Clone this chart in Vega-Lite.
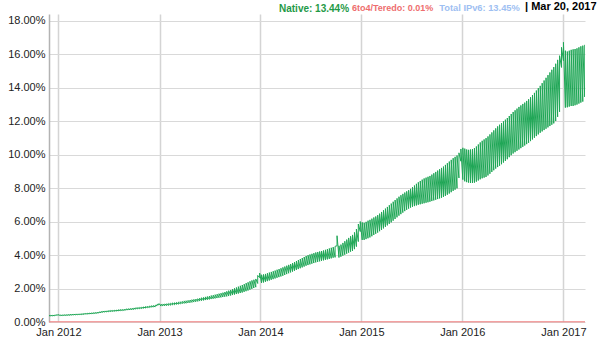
{
"$schema": "https://vega.github.io/schema/vega-lite/v6.json",
"width": 536, "height": 308,
"autosize": {"type": "none"},
"padding": {"left": 49, "top": 14, "right": 15, "bottom": 24},
"background": "white",
"config": {"view": {"stroke": null}, "font": "Liberation Sans", "axis": {"labelFont": "Liberation Sans", "labelFontSize": 11, "labelColor": "#222", "title": null, "ticks": false},
  "legend": {"orient": "none", "legendY": -10.5, "direction": "horizontal", "padding": 0, "symbolSize": 0, "symbolStrokeWidth": 0, "symbolOpacity": 0, "labelOffset": 0, "labelFont": "Liberation Sans", "labelFontWeight": "bold", "labelBaseline": "middle", "title": null}},
"encoding": {
  "x": {"field": "d", "type": "temporal",
    "scale": {"type": "utc", "domain": [{"year": 2011, "month": 11, "date": 28, "utc": true}, {"year": 2017, "month": 3, "date": 20, "utc": true}]},
    "axis": {"values": [{"year": 2012, "month": 1, "date": 1, "utc": true}, {"year": 2013, "month": 1, "date": 1, "utc": true}, {"year": 2014, "month": 1, "date": 1, "utc": true}, {"year": 2015, "month": 1, "date": 1, "utc": true}, {"year": 2016, "month": 1, "date": 1, "utc": true}, {"year": 2017, "month": 1, "date": 1, "utc": true}],
      "labelExpr": "utcFormat(datum.value, '%b %Y')", "grid": true, "gridColor": "#d4d4d4", "gridWidth": 1.5, "domain": false, "labelPadding": 4, "labelFlush": false, "labelOverlap": false}
  },
  "y": {"field": "v", "type": "quantitative",
    "scale": {"domain": [0, 18.39], "nice": false, "zero": true},
    "axis": {"values": [0, 2, 4, 6, 8, 10, 12, 14, 16, 18], "labelExpr": "format(datum.value, '.2f') + '%'", "grid": true, "gridColor": "#d9d9d9", "gridWidth": 1, "domainColor": "#b3b3b3", "domainWidth": 1.5, "labelPadding": 4, "labelOverlap": false}}
},
"layer": [
  {
    "data": {"values": [
{"d":"2011-11-28","l":0.35,"h":0.39},{"d":"2011-12-04","l":0.36,"h":0.40},{"d":"2011-12-11","l":0.36,"h":0.40},{"d":"2011-12-18","l":0.37,"h":0.41},{"d":"2011-12-25","l":0.40,"h":0.43},
{"d":"2012-01-01","l":0.41,"h":0.44},{"d":"2012-01-08","l":0.38,"h":0.42},{"d":"2012-01-15","l":0.38,"h":0.42},{"d":"2012-01-22","l":0.39,"h":0.43},{"d":"2012-01-29","l":0.39,"h":0.43},
{"d":"2012-02-05","l":0.40,"h":0.44},{"d":"2012-02-12","l":0.40,"h":0.45},{"d":"2012-02-19","l":0.41,"h":0.45},{"d":"2012-02-26","l":0.42,"h":0.46},
{"d":"2012-03-04","l":0.42,"h":0.47},{"d":"2012-03-11","l":0.43,"h":0.47},{"d":"2012-03-18","l":0.44,"h":0.48},{"d":"2012-03-25","l":0.44,"h":0.49},
{"d":"2012-04-01","l":0.45,"h":0.50},{"d":"2012-04-08","l":0.47,"h":0.51},{"d":"2012-04-15","l":0.47,"h":0.52},{"d":"2012-04-22","l":0.48,"h":0.53},{"d":"2012-04-29","l":0.49,"h":0.54},
{"d":"2012-05-06","l":0.50,"h":0.55},{"d":"2012-05-13","l":0.51,"h":0.56},{"d":"2012-05-20","l":0.52,"h":0.57},{"d":"2012-05-27","l":0.54,"h":0.60},
{"d":"2012-06-03","l":0.56,"h":0.62},{"d":"2012-06-10","l":0.58,"h":0.64},{"d":"2012-06-17","l":0.59,"h":0.65},{"d":"2012-06-24","l":0.60,"h":0.66},
{"d":"2012-07-01","l":0.61,"h":0.68},{"d":"2012-07-08","l":0.62,"h":0.69},{"d":"2012-07-15","l":0.63,"h":0.69},{"d":"2012-07-22","l":0.64,"h":0.70},{"d":"2012-07-29","l":0.65,"h":0.71},
{"d":"2012-08-05","l":0.66,"h":0.73},{"d":"2012-08-12","l":0.67,"h":0.74},{"d":"2012-08-19","l":0.68,"h":0.74},{"d":"2012-08-26","l":0.69,"h":0.75},
{"d":"2012-09-02","l":0.71,"h":0.78},{"d":"2012-09-09","l":0.72,"h":0.79},{"d":"2012-09-16","l":0.73,"h":0.80},{"d":"2012-09-23","l":0.74,"h":0.81},{"d":"2012-09-30","l":0.75,"h":0.83},
{"d":"2012-10-07","l":0.77,"h":0.85},{"d":"2012-10-14","l":0.78,"h":0.86},{"d":"2012-10-21","l":0.79,"h":0.87},{"d":"2012-10-28","l":0.80,"h":0.88},
{"d":"2012-11-04","l":0.82,"h":0.90},{"d":"2012-11-11","l":0.83,"h":0.92},{"d":"2012-11-18","l":0.85,"h":0.93},{"d":"2012-11-25","l":0.86,"h":0.95},
{"d":"2012-12-02","l":0.88,"h":0.97},{"d":"2012-12-09","l":0.89,"h":0.98},{"d":"2012-12-16","l":0.90,"h":1.00},{"d":"2012-12-23","l":0.97,"h":1.06},{"d":"2012-12-30","l":1.02,"h":1.10},
{"d":"2013-01-06","l":0.95,"h":1.06},{"d":"2013-01-13","l":0.96,"h":1.07},{"d":"2013-01-20","l":0.97,"h":1.08},{"d":"2013-01-27","l":0.98,"h":1.09},
{"d":"2013-02-03","l":0.99,"h":1.11},{"d":"2013-02-10","l":1.00,"h":1.12},{"d":"2013-02-17","l":1.02,"h":1.14},{"d":"2013-02-24","l":1.03,"h":1.15},
{"d":"2013-03-03","l":1.05,"h":1.17},{"d":"2013-03-10","l":1.06,"h":1.19},{"d":"2013-03-17","l":1.08,"h":1.21},{"d":"2013-03-24","l":1.09,"h":1.23},{"d":"2013-03-31","l":1.11,"h":1.26},
{"d":"2013-04-07","l":1.12,"h":1.27},{"d":"2013-04-14","l":1.14,"h":1.29},{"d":"2013-04-21","l":1.15,"h":1.31},{"d":"2013-04-28","l":1.17,"h":1.33},
{"d":"2013-05-05","l":1.19,"h":1.35},{"d":"2013-05-12","l":1.21,"h":1.37},{"d":"2013-05-19","l":1.23,"h":1.39},{"d":"2013-05-26","l":1.25,"h":1.42},
{"d":"2013-06-02","l":1.27,"h":1.45},{"d":"2013-06-09","l":1.29,"h":1.47},{"d":"2013-06-16","l":1.31,"h":1.50},{"d":"2013-06-23","l":1.33,"h":1.52},{"d":"2013-06-30","l":1.35,"h":1.55},
{"d":"2013-07-07","l":1.37,"h":1.58},{"d":"2013-07-14","l":1.39,"h":1.60},{"d":"2013-07-21","l":1.41,"h":1.63},{"d":"2013-07-28","l":1.43,"h":1.66},
{"d":"2013-08-04","l":1.45,"h":1.69},{"d":"2013-08-11","l":1.47,"h":1.72},{"d":"2013-08-18","l":1.49,"h":1.75},{"d":"2013-08-25","l":1.51,"h":1.79},
{"d":"2013-09-01","l":1.53,"h":1.83},{"d":"2013-09-08","l":1.55,"h":1.87},{"d":"2013-09-15","l":1.58,"h":1.91},{"d":"2013-09-22","l":1.61,"h":1.96},{"d":"2013-09-29","l":1.64,"h":2.01},
{"d":"2013-10-06","l":1.67,"h":2.06},{"d":"2013-10-13","l":1.70,"h":2.11},{"d":"2013-10-20","l":1.73,"h":2.16},{"d":"2013-10-27","l":1.76,"h":2.21},
{"d":"2013-11-03","l":1.80,"h":2.26},{"d":"2013-11-10","l":1.84,"h":2.32},{"d":"2013-11-17","l":1.88,"h":2.37},{"d":"2013-11-24","l":1.93,"h":2.43},
{"d":"2013-12-01","l":1.98,"h":2.48},{"d":"2013-12-08","l":2.03,"h":2.52},{"d":"2013-12-15","l":2.08,"h":2.57},{"d":"2013-12-22","l":2.30,"h":2.78},{"d":"2013-12-29","l":2.65,"h":2.92},
{"d":"2014-01-05","l":2.33,"h":2.82},{"d":"2014-01-12","l":2.36,"h":2.84},{"d":"2014-01-19","l":2.40,"h":2.87},{"d":"2014-01-26","l":2.44,"h":2.91},
{"d":"2014-02-02","l":2.48,"h":2.95},{"d":"2014-02-09","l":2.52,"h":2.99},{"d":"2014-02-16","l":2.56,"h":3.03},{"d":"2014-02-23","l":2.60,"h":3.07},
{"d":"2014-03-02","l":2.64,"h":3.12},{"d":"2014-03-09","l":2.68,"h":3.16},{"d":"2014-03-16","l":2.72,"h":3.21},{"d":"2014-03-23","l":2.76,"h":3.26},{"d":"2014-03-30","l":2.81,"h":3.31},
{"d":"2014-04-06","l":2.86,"h":3.36},{"d":"2014-04-13","l":2.91,"h":3.41},{"d":"2014-04-20","l":2.96,"h":3.46},{"d":"2014-04-27","l":3.01,"h":3.52},
{"d":"2014-05-04","l":3.06,"h":3.58},{"d":"2014-05-11","l":3.11,"h":3.64},{"d":"2014-05-18","l":3.16,"h":3.70},{"d":"2014-05-25","l":3.21,"h":3.76},
{"d":"2014-06-01","l":3.26,"h":3.82},{"d":"2014-06-08","l":3.31,"h":3.88},{"d":"2014-06-15","l":3.36,"h":3.94},{"d":"2014-06-22","l":3.40,"h":3.99},{"d":"2014-06-29","l":3.44,"h":4.03},
{"d":"2014-07-06","l":3.48,"h":4.07},{"d":"2014-07-13","l":3.52,"h":4.11},{"d":"2014-07-20","l":3.56,"h":4.15},{"d":"2014-07-27","l":3.59,"h":4.18},
{"d":"2014-08-03","l":3.62,"h":4.21},{"d":"2014-08-10","l":3.65,"h":4.24},{"d":"2014-08-17","l":3.68,"h":4.27},{"d":"2014-08-24","l":3.71,"h":4.31},{"d":"2014-08-31","l":3.74,"h":4.35},
{"d":"2014-09-07","l":3.77,"h":4.39},{"d":"2014-09-14","l":3.80,"h":4.43},{"d":"2014-09-21","l":3.84,"h":4.47},{"d":"2014-09-28","l":3.86,"h":4.52},
{"d":"2014-10-05","l":4.55,"h":5.15},{"d":"2014-10-12","l":3.85,"h":4.55},{"d":"2014-10-19","l":3.90,"h":4.62},{"d":"2014-10-26","l":3.96,"h":4.72},
{"d":"2014-11-02","l":4.02,"h":4.82},{"d":"2014-11-09","l":4.08,"h":4.92},{"d":"2014-11-16","l":4.14,"h":5.02},{"d":"2014-11-23","l":4.20,"h":5.12},{"d":"2014-11-30","l":4.24,"h":5.20},
{"d":"2014-12-07","l":4.35,"h":5.35},{"d":"2014-12-14","l":4.50,"h":5.55},{"d":"2014-12-21","l":4.80,"h":5.85},{"d":"2014-12-28","l":5.40,"h":6.00},
{"d":"2015-01-04","l":4.90,"h":5.95},{"d":"2015-01-11","l":4.90,"h":5.92},{"d":"2015-01-18","l":4.95,"h":5.98},{"d":"2015-01-25","l":5.00,"h":6.05},
{"d":"2015-02-01","l":5.05,"h":6.10},{"d":"2015-02-08","l":5.12,"h":6.17},{"d":"2015-02-15","l":5.20,"h":6.24},{"d":"2015-02-22","l":5.27,"h":6.30},
{"d":"2015-03-01","l":5.34,"h":6.38},{"d":"2015-03-08","l":5.42,"h":6.47},{"d":"2015-03-15","l":5.50,"h":6.57},{"d":"2015-03-22","l":5.59,"h":6.67},{"d":"2015-03-29","l":5.68,"h":6.77},
{"d":"2015-04-05","l":5.77,"h":6.87},{"d":"2015-04-12","l":5.86,"h":6.97},{"d":"2015-04-19","l":5.95,"h":7.07},{"d":"2015-04-26","l":6.05,"h":7.18},
{"d":"2015-05-03","l":6.15,"h":7.28},{"d":"2015-05-10","l":6.25,"h":7.38},{"d":"2015-05-17","l":6.35,"h":7.48},{"d":"2015-05-24","l":6.44,"h":7.57},{"d":"2015-05-31","l":6.53,"h":7.65},
{"d":"2015-06-07","l":6.62,"h":7.73},{"d":"2015-06-14","l":6.70,"h":7.80},{"d":"2015-06-21","l":6.77,"h":7.87},{"d":"2015-06-28","l":6.83,"h":7.95},
{"d":"2015-07-05","l":6.88,"h":8.05},{"d":"2015-07-12","l":6.92,"h":8.15},{"d":"2015-07-19","l":6.96,"h":8.25},{"d":"2015-07-26","l":7.00,"h":8.34},
{"d":"2015-08-02","l":7.03,"h":8.42},{"d":"2015-08-09","l":7.06,"h":8.50},{"d":"2015-08-16","l":7.09,"h":8.57},{"d":"2015-08-23","l":7.12,"h":8.62},{"d":"2015-08-30","l":7.15,"h":8.67},
{"d":"2015-09-06","l":7.18,"h":8.72},{"d":"2015-09-13","l":7.22,"h":8.80},{"d":"2015-09-20","l":7.26,"h":8.88},{"d":"2015-09-27","l":7.30,"h":8.96},
{"d":"2015-10-04","l":7.34,"h":9.04},{"d":"2015-10-11","l":7.38,"h":9.12},{"d":"2015-10-18","l":7.42,"h":9.20},{"d":"2015-10-25","l":7.47,"h":9.28},
{"d":"2015-11-01","l":7.53,"h":9.38},{"d":"2015-11-08","l":7.60,"h":9.48},{"d":"2015-11-15","l":7.67,"h":9.58},{"d":"2015-11-22","l":7.75,"h":9.68},{"d":"2015-11-29","l":7.83,"h":9.78},
{"d":"2015-12-06","l":7.90,"h":9.86},{"d":"2015-12-13","l":7.98,"h":9.94},{"d":"2015-12-20","l":8.60,"h":10.10},{"d":"2015-12-27","l":9.60,"h":10.33},
{"d":"2016-01-03","l":8.50,"h":10.40},{"d":"2016-01-10","l":8.40,"h":10.35},{"d":"2016-01-17","l":8.35,"h":10.30},{"d":"2016-01-24","l":8.32,"h":10.28},{"d":"2016-01-31","l":8.30,"h":10.30},
{"d":"2016-02-07","l":8.30,"h":10.32},{"d":"2016-02-14","l":8.32,"h":10.38},{"d":"2016-02-21","l":8.38,"h":10.48},{"d":"2016-02-28","l":8.45,"h":10.60},
{"d":"2016-03-06","l":8.52,"h":10.72},{"d":"2016-03-13","l":8.58,"h":10.82},{"d":"2016-03-20","l":8.62,"h":10.90},{"d":"2016-03-27","l":8.66,"h":10.98},
{"d":"2016-04-03","l":8.75,"h":11.08},{"d":"2016-04-10","l":8.85,"h":11.20},{"d":"2016-04-17","l":8.96,"h":11.32},{"d":"2016-04-24","l":9.06,"h":11.44},
{"d":"2016-05-01","l":9.16,"h":11.56},{"d":"2016-05-08","l":9.25,"h":11.68},{"d":"2016-05-15","l":9.33,"h":11.78},{"d":"2016-05-22","l":9.42,"h":11.88},{"d":"2016-05-29","l":9.52,"h":11.98},
{"d":"2016-06-05","l":9.62,"h":12.08},{"d":"2016-06-12","l":9.72,"h":12.18},{"d":"2016-06-19","l":9.84,"h":12.30},{"d":"2016-06-26","l":9.96,"h":12.42},
{"d":"2016-07-03","l":10.06,"h":12.54},{"d":"2016-07-10","l":10.14,"h":12.64},{"d":"2016-07-17","l":10.22,"h":12.74},{"d":"2016-07-24","l":10.30,"h":12.84},{"d":"2016-07-31","l":10.38,"h":12.93},
{"d":"2016-08-07","l":10.46,"h":13.02},{"d":"2016-08-14","l":10.54,"h":13.10},{"d":"2016-08-21","l":10.62,"h":13.20},{"d":"2016-08-28","l":10.70,"h":13.30},
{"d":"2016-09-04","l":10.80,"h":13.42},{"d":"2016-09-11","l":10.90,"h":13.55},{"d":"2016-09-18","l":11.00,"h":13.68},{"d":"2016-09-25","l":11.10,"h":13.82},
{"d":"2016-10-02","l":11.20,"h":13.96},{"d":"2016-10-09","l":11.30,"h":14.10},{"d":"2016-10-16","l":11.38,"h":14.26},{"d":"2016-10-23","l":11.46,"h":14.42},{"d":"2016-10-30","l":11.54,"h":14.58},
{"d":"2016-11-06","l":11.62,"h":14.74},{"d":"2016-11-13","l":11.70,"h":14.90},{"d":"2016-11-20","l":11.78,"h":15.06},{"d":"2016-11-27","l":11.86,"h":15.22},
{"d":"2016-12-04","l":12.00,"h":15.42},{"d":"2016-12-11","l":12.25,"h":15.65},{"d":"2016-12-18","l":12.55,"h":15.90},{"d":"2016-12-25","l":15.20,"h":16.40},
{"d":"2017-01-01","l":15.60,"h":16.70},{"d":"2017-01-08","l":12.80,"h":16.20},{"d":"2017-01-15","l":12.82,"h":16.15},{"d":"2017-01-22","l":12.86,"h":16.20},{"d":"2017-01-29","l":12.90,"h":16.25},
{"d":"2017-02-05","l":12.90,"h":16.28},{"d":"2017-02-12","l":12.94,"h":16.30},{"d":"2017-02-19","l":12.98,"h":16.34},{"d":"2017-02-26","l":13.04,"h":16.40},
{"d":"2017-03-05","l":13.10,"h":16.46},{"d":"2017-03-12","l":13.16,"h":16.50},{"d":"2017-03-19","l":13.44,"h":16.55}
    ]},
    "transform": [{"fold": ["l", "h"], "as": ["k", "v"]}],
    "mark": {"type": "line", "clip": true},
    "encoding": {
      "color": {"datum": "Native", "type": "nominal", "scale": {"range": ["#1ea655"]},
        "legend": {"legendX": 220, "labelColor": "#1f9a47", "labelFontSize": 10, "labelExpr": "'Native: 13.44%'"}},
      "opacity": {"datum": "Total IPv6", "type": "nominal", "scale": {"range": [0.78]},
        "legend": {"legendX": 381, "labelColor": "#9ec0f2", "labelFontSize": 9.3, "labelExpr": "'Total IPv6: 13.45%'"}},
      "strokeWidth": {"datum": "| Mar 20, 2017", "type": "nominal", "scale": {"range": [0.9]},
        "legend": {"legendX": 476, "legendY": -7.5, "labelColor": "#000000", "labelFontSize": 11, "labelExpr": "datum.label"}},
      "order": {"value": null}
    }
  },
  {
    "data": {"values": [{"d": "2011-11-28", "v": 0.02}, {"d": "2014-01-01", "v": 0.02}, {"d": "2017-03-20", "v": 0.01}]},
    "mark": {"type": "line", "strokeWidth": 1.5, "color": "#f08a8a", "opacity": 0.8},
    "encoding": {
      "strokeDash": {"datum": "6to4/Teredo", "type": "nominal", "scale": {"range": [[1, 0]]},
        "legend": {"legendX": 294, "labelColor": "#ee6e6e", "labelFontSize": 9, "labelExpr": "'6to4/Teredo: 0.01%'"}}
    }
  }
]
}
